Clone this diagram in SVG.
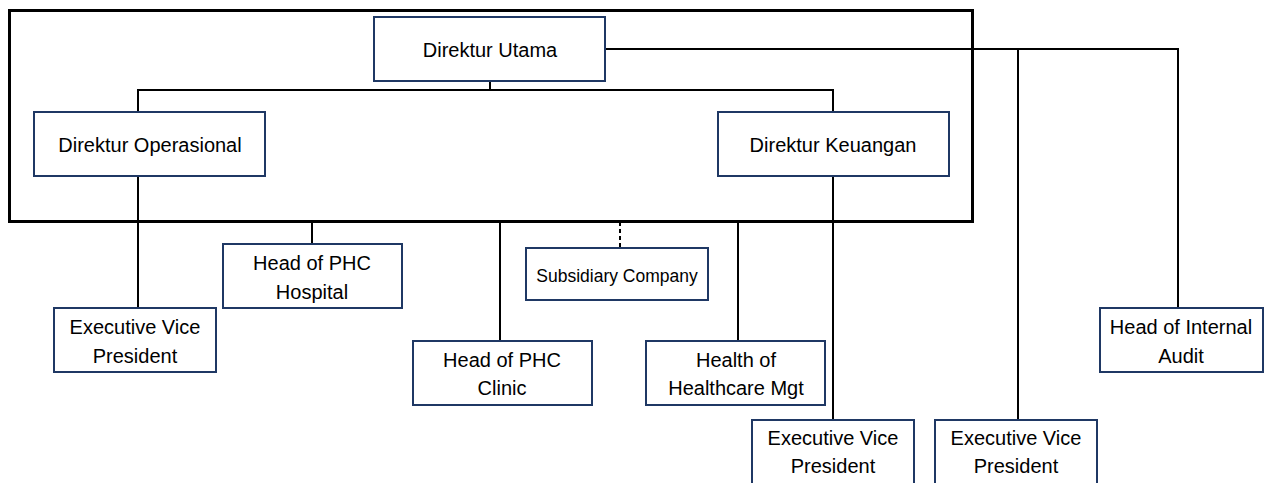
<svg xmlns="http://www.w3.org/2000/svg" width="1271" height="483" viewBox="0 0 1271 483">
<style>
.box{fill:#fff;stroke:#1f3864;stroke-width:2}
.t{font-family:"Liberation Sans",Arial,sans-serif;font-size:20px;fill:#000;text-anchor:middle}
.s{font-size:17.5px}
.c{fill:none;stroke:#000;stroke-width:2}
.d{stroke-dasharray:4,3}
.frame{fill:none;stroke:#000;stroke-width:3}
</style>
<rect width="1271" height="483" fill="#fff"/>
<rect class="frame" x="9.5" y="10.5" width="963" height="211"/>
<g id="connectors">
<path class="c" d="M490 81V90M138 112V90H833V112"/>
<path class="c" d="M605 49H1178V308M1018 49V420"/>
<path class="c" d="M138 176V308"/>
<path class="c" d="M312 222V244M500 222V341M738 222V341"/>
<path class="c d" d="M620 222V248"/>
<path class="c" d="M833 176V420"/>
</g>
<g id="direktur-utama"><rect class="box" x="374" y="17" width="231" height="64"/><text class="t" x="490" y="57">Direktur Utama</text></g>
<g id="direktur-operasional"><rect class="box" x="34" y="112" width="231" height="64"/><text class="t" x="150" y="152">Direktur Operasional</text></g>
<g id="direktur-keuangan"><rect class="box" x="718" y="112" width="231" height="64"/><text class="t" x="833" y="152">Direktur Keuangan</text></g>
<g id="evp-1"><rect class="box" x="54" y="308" width="162" height="64"/><text class="t" x="135" y="334">Executive Vice</text><text class="t" x="135" y="363">President</text></g>
<g id="head-phc-hospital"><rect class="box" x="223" y="244" width="179" height="64"/><text class="t" x="312" y="270">Head of PHC</text><text class="t" x="312" y="299">Hospital</text></g>
<g id="head-phc-clinic"><rect class="box" x="413" y="341" width="179" height="64"/><text class="t" x="502" y="367">Head of PHC</text><text class="t" x="502" y="395">Clinic</text></g>
<g id="subsidiary-company"><rect class="box" x="526" y="248" width="182" height="52"/><text class="t s" x="617" y="282">Subsidiary Company</text></g>
<g id="health-healthcare-mgt"><rect class="box" x="646" y="341" width="179" height="64"/><text class="t" x="736" y="367">Health of</text><text class="t" x="736" y="395">Healthcare Mgt</text></g>
<g id="evp-2"><rect class="box" x="752" y="420" width="162" height="64"/><text class="t" x="833" y="445">Executive Vice</text><text class="t" x="833" y="473">President</text></g>
<g id="evp-3"><rect class="box" x="935" y="420" width="162" height="64"/><text class="t" x="1016" y="445">Executive Vice</text><text class="t" x="1016" y="473">President</text></g>
<g id="head-internal-audit"><rect class="box" x="1100" y="308" width="163" height="64"/><text class="t" x="1181" y="334">Head of Internal</text><text class="t" x="1181" y="363">Audit</text></g>
</svg>
